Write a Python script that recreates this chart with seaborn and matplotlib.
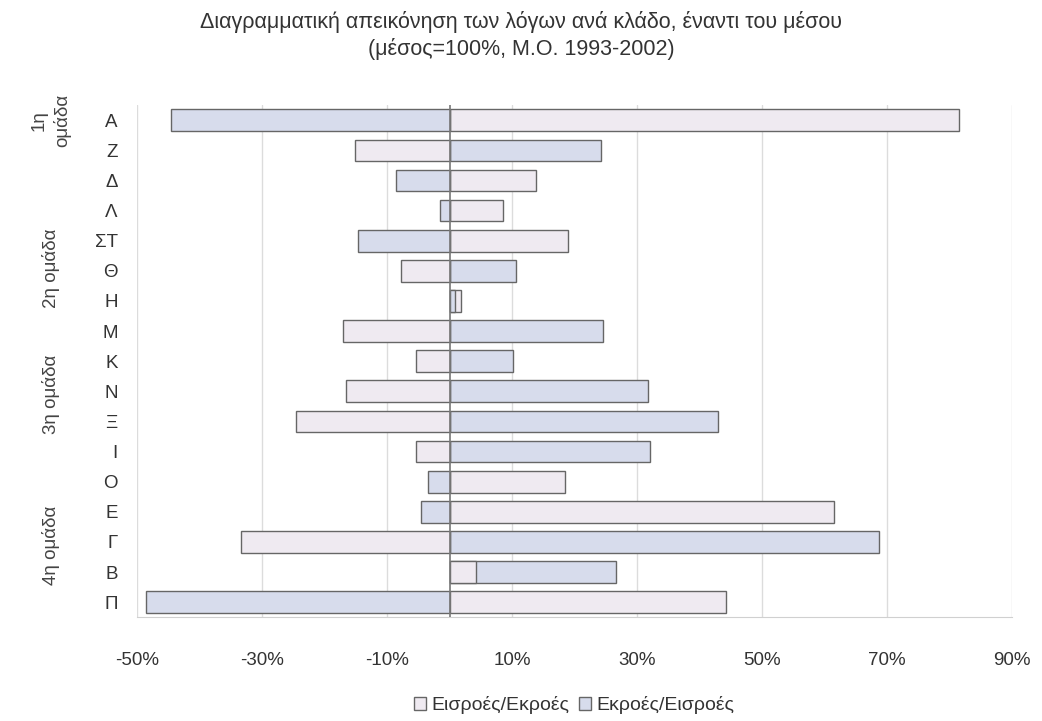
import pandas as pd
import seaborn as sns
import matplotlib.pyplot as plt
from matplotlib.ticker import FuncFormatter

# categories top -> bottom
CATEGORIES = ["Α", "Ζ", "Δ", "Λ", "ΣΤ", "Θ", "Η", "Μ", "Κ", "Ν", "Ξ", "Ι", "Ο", "Ε", "Γ", "Β", "Π"]

# deviation from the mean (%)
IN_OUT = [81.6, -15.2, 13.9, 8.5, 18.9, -7.7, 1.8, -17.1, -5.4, -16.5, -24.5, -5.4, 18.4, 61.6, -33.4, 4.3, 44.2]
OUT_IN = [-44.5, 24.3, -8.6, -1.6, -14.7, 10.7, 0.9, 24.5, 10.2, 31.8, 42.9, 32.0, -3.4, -4.6, 68.8, 26.6, -48.6]

SERIES = ["Εισροές/Εκροές", "Εκροές/Εισροές"]
COLORS = ["#efe9f2", "#d3daf0"]

# group label and the row index (from the top) it is centred on
GROUP_LABELS = ["1η\nομάδα", "2η ομάδα", "3η ομάδα", "4η ομάδα"]
GROUP_ROWS = [0.0, 4.9, 9.1, 14.1]

TITLE = "Διαγραμματική απεικόνηση των λόγων ανά κλάδο, έναντι του μέσου\n(μέσος=100%, Μ.Ο. 1993-2002)"


def plot_chart():
    sns.set_style("white")
    plt.rcParams['font.family'] = ['Liberation Sans', 'DejaVu Sans']

    df = pd.DataFrame({
        "cat": CATEGORIES * 2,
        "value": IN_OUT + OUT_IN,
        "series": [SERIES[0]] * len(CATEGORIES) + [SERIES[1]] * len(CATEGORIES),
    })

    fig = plt.figure(figsize=(10.42, 7.21), dpi=100)
    ax = fig.add_axes([0.1315, 0.144, 0.8397, 0.710])

    sns.barplot(data=df, x="value", y="cat", hue="series", order=CATEGORIES,
                hue_order=SERIES, palette=COLORS, dodge=False, orient="h",
                width=0.72, edgecolor="#666666", linewidth=1.0, ax=ax)

    # shorter bar stays visible when two bars overlap on the same side
    for p in ax.patches:
        p.set_zorder(2.5 - abs(p.get_width()) / 1000)

    ax.set_xlim(-50, 90)
    ax.set_xticks(range(-50, 91, 20))
    ax.xaxis.set_major_formatter(FuncFormatter(lambda v, p: f"{v:.0f}%"))
    ax.grid(axis="x", color="#dcdcdc", linewidth=1)
    ax.set_axisbelow(True)
    ax.axvline(0, color="#777777", linewidth=1.2, zorder=3)

    for s in ["top", "right", "left"]:
        ax.spines[s].set_visible(False)
    ax.spines["bottom"].set_color("#d0d0d0")

    ax.tick_params(axis="x", length=0, pad=25, labelsize=13.5, labelcolor="#333333")
    ax.tick_params(axis="y", length=0, pad=14, labelsize=13.5, labelcolor="#333333")
    ax.set_xlabel("")
    ax.set_ylabel("")

    # group labels on the left
    for label, yc in zip(GROUP_LABELS, GROUP_ROWS):
        ax.text(-0.098, yc, label, transform=ax.get_yaxis_transform(), rotation=90,
                ha="center", va="center", fontsize=13.5, color="#444444",
                linespacing=1.4)

    fig.suptitle(TITLE, y=0.985, fontsize=15.5, color="#333333", linespacing=1.3)

    sns.move_legend(ax, "center", bbox_to_anchor=(0.5, -0.172), ncol=2,
                    frameon=False, title=None, fontsize=14,
                    handlelength=0.6, handleheight=0.6, handletextpad=0.3,
                    columnspacing=0.5, labelcolor="#333333")

    fig.savefig("out.png", dpi=100)
    plt.close(fig)


if __name__ == "__main__":
    plot_chart()
